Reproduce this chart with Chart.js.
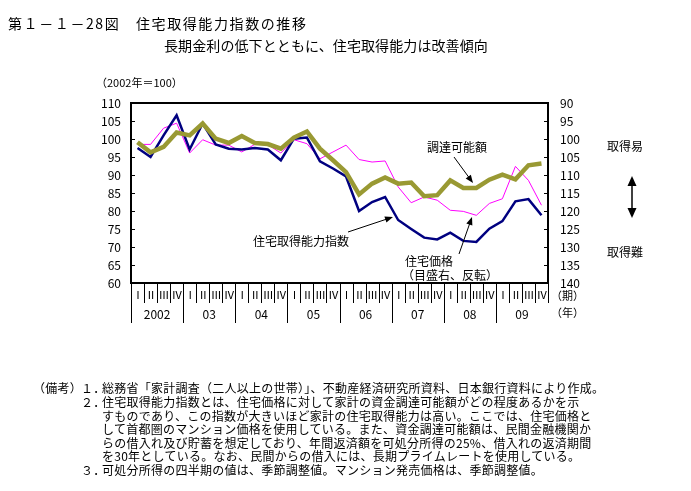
<!DOCTYPE html>
<html>
<head>
<meta charset="utf-8">
<script src="https://cdn.jsdelivr.net/npm/chart.js@4.4.1/dist/chart.umd.min.js"></script>
<style>
  body { margin: 0; background: #fff; font-family: "Noto Sans CJK JP", sans-serif; color: #000; }
  #wrap { position: relative; width: 691px; height: 491px; overflow: hidden; }
  #chart { position: absolute; left: 0; top: 0; }
  .t { position: absolute; white-space: nowrap; }
  .note { font-size: 12px; line-height: 13px; letter-spacing: 0.25px; }
</style>
</head>
<body>
<div id="wrap">
  <canvas id="chart" width="691" height="491"></canvas>
  <div class="t" style="left:8px;top:16px;font-size:14px;line-height:15px;letter-spacing:1.6px">第１－１－28図　住宅取得能力指数の推移</div>
  <div class="t" style="left:164px;top:38px;font-size:14px;line-height:15px;letter-spacing:0.1px">長期金利の低下とともに、住宅取得能力は改善傾向</div>

  <div class="t note" style="left:33px;top:381px">（備考）</div>
  <div class="t note" style="left:81px;top:381px">１．</div>
  <div class="t note" style="left:102px;top:381px">総務省「家計調査（二人以上の世帯）」、不動産経済研究所資料、日本銀行資料により作成。</div>
  <div class="t note" style="left:81px;top:395px">２．</div>
  <div class="t note" style="left:102px;top:395px">住宅取得能力指数とは、住宅価格に対して家計の資金調達可能額がどの程度あるかを示</div>
  <div class="t note" style="left:102px;top:409px">すものであり、この指数が大きいほど家計の住宅取得能力は高い。ここでは、住宅価格と</div>
  <div class="t note" style="left:102px;top:422px">して首都圏のマンション価格を使用している。また、資金調達可能額は、民間金融機関か</div>
  <div class="t note" style="left:102px;top:436px">らの借入れ及び貯蓄を想定しており、年間返済額を可処分所得の25%、借入れの返済期間</div>
  <div class="t note" style="left:102px;top:449px">を30年としている。なお、民間からの借入には、長期プライムレートを使用している。</div>
  <div class="t note" style="left:81px;top:463px">３．</div>
  <div class="t note" style="left:102px;top:463px">可処分所得の四半期の値は、季節調整値。マンション発売価格は、季節調整値。</div>
</div>
<script>
// quarters 2002 I - 2009 IV
var years = ['2002', '03', '04', '05', '06', '07', '08', '09'];
var quarters = ['Ⅰ', 'Ⅱ', 'Ⅲ', 'Ⅳ'];

// 住宅取得能力指数 (left axis, 2002=100)
var affordIndex = [97.5, 95.0, 101.0, 106.6, 97.1, 104.3, 98.5, 97.3,
                   97.1, 97.5, 97.1, 94.1, 100.1, 100.4, 93.8, 91.8,
                   89.6, 80.0, 82.5, 83.9, 77.5, 75.0, 72.6, 72.1,
                   74.0, 71.7, 71.4, 75.1, 77.2, 82.7, 83.3, 78.8];
// 調達可能額 (left axis)
var fundingAmount = [99.1, 96.3, 97.8, 101.8, 101.0, 104.3, 100.1, 98.9,
                     100.8, 98.9, 98.6, 97.3, 100.4, 102.1, 97.3, 94.1,
                     90.8, 84.6, 87.6, 89.3, 87.6, 87.9, 84.1, 84.4,
                     88.5, 86.4, 86.4, 88.7, 90.1, 88.8, 92.7, 93.2];
// 住宅価格 (right axis, reversed)
var housePrice = [101.5, 101.5, 97.0, 95.6, 103.9, 100.2, 101.7, 101.7,
                  103.6, 101.5, 101.6, 103.9, 100.2, 101.3, 105.5, 103.6,
                  101.7, 105.7, 106.4, 106.1, 113.3, 117.7, 116.1, 117.0,
                  119.8, 120.1, 121.2, 117.9, 116.6, 107.6, 111.5, 118.4];

var labels = [];
years.forEach(function(y) {
  quarters.forEach(function(q) { labels.push(y + q); });
});

var FONT = '"Noto Sans CJK JP", sans-serif';

function arrow(ctx, x1, y1, x2, y2) {
  var a = Math.atan2(y2 - y1, x2 - x1);
  var len = 8, w = 3.2;
  ctx.beginPath();
  ctx.moveTo(x1, y1);
  ctx.lineTo(x2 - Math.cos(a) * len * 0.8, y2 - Math.sin(a) * len * 0.8);
  ctx.stroke();
  ctx.beginPath();
  ctx.moveTo(x2, y2);
  ctx.lineTo(x2 - Math.cos(a) * len - Math.sin(a) * w, y2 - Math.sin(a) * len + Math.cos(a) * w);
  ctx.lineTo(x2 - Math.cos(a) * len + Math.sin(a) * w, y2 - Math.sin(a) * len - Math.cos(a) * w);
  ctx.closePath();
  ctx.fill();
}

var decor = {
  id: 'decor',
  afterDraw: function(chart) {
    var ctx = chart.ctx;
    var area = chart.chartArea;
    var xs = chart.scales.x, yl = chart.scales.y, yr = chart.scales.y2;
    ctx.save();
    ctx.strokeStyle = '#000';
    ctx.fillStyle = '#000';

    // frame
    ctx.lineWidth = 2;
    ctx.strokeRect(area.left, area.top, area.right - area.left, area.bottom - area.top);

    // inner tick marks
    ctx.lineWidth = 1;
    yl.ticks.forEach(function(t) {
      var py = Math.round(yl.getPixelForValue(t.value)) + 0.5;
      ctx.beginPath(); ctx.moveTo(area.left, py); ctx.lineTo(area.left + 4, py); ctx.stroke();
    });
    yr.ticks.forEach(function(t) {
      var py = Math.round(yr.getPixelForValue(t.value)) + 0.5;
      ctx.beginPath(); ctx.moveTo(area.right, py); ctx.lineTo(area.right - 4, py); ctx.stroke();
    });

    // two-row category axis
    var n = labels.length;
    var step = (area.right - area.left) / n;
    var row1 = area.bottom + 20, row2 = area.bottom + 40;
    ctx.lineWidth = 1;
    for (var i = 0; i <= n; i++) {
      var bx = Math.round(xs.getPixelForValue(Math.min(i, n - 1)) + (i === n ? step / 2 : -step / 2)) + 0.5;
      var bottom = (i % 4 === 0 && i < n) ? row2 : row1;
      ctx.beginPath(); ctx.moveTo(bx, area.bottom); ctx.lineTo(bx, bottom); ctx.stroke();
    }
    ctx.font = '11px ' + FONT;
    ctx.textAlign = 'center';
    ctx.textBaseline = 'middle';
    for (var j = 0; j < n; j++) {
      ctx.fillText(quarters[j % 4], xs.getPixelForValue(j) + 0.5, area.bottom + 12);
    }
    ctx.font = '12px ' + FONT;
    years.forEach(function(y, k) {
      var cx = (xs.getPixelForValue(k * 4) + xs.getPixelForValue(k * 4 + 3)) / 2;
      ctx.fillText(y, cx, area.bottom + 31);
    });
    ctx.textAlign = 'left';
    ctx.font = '11px ' + FONT;
    ctx.fillText('（期）', area.right + 3, area.bottom + 13);
    ctx.fillText('（年）', area.right + 3, area.bottom + 30);

    // unit
    ctx.font = '11px ' + FONT;
    ctx.fillText('（2002年＝100）', 96, 83);

    // annotations
    ctx.font = '12px ' + FONT;
    ctx.fillText('調達可能額', 427, 147);
    ctx.fillText('住宅取得能力指数', 253, 241);
    ctx.fillText('住宅価格', 405, 261);
    ctx.fillText('（目盛右、反転）', 402, 275);
    ctx.fillText('取得易', 607, 146);
    ctx.fillText('取得難', 607, 252);
    ctx.lineWidth = 1;
    arrow(ctx, 454, 157, 473, 183);
    arrow(ctx, 348, 232, 393, 217);
    arrow(ctx, 459, 254, 472, 217);
    // up/down arrow
    ctx.lineWidth = 1.5;
    ctx.beginPath(); ctx.moveTo(632, 182); ctx.lineTo(632, 212); ctx.stroke();
    ctx.beginPath(); ctx.moveTo(632, 176); ctx.lineTo(627.5, 186); ctx.lineTo(636.5, 186); ctx.closePath(); ctx.fill();
    ctx.beginPath(); ctx.moveTo(632, 218); ctx.lineTo(627.5, 208); ctx.lineTo(636.5, 208); ctx.closePath(); ctx.fill();
    ctx.restore();
  }
};

var ctx = document.getElementById('chart').getContext('2d');
new Chart(ctx, {
  type: 'line',
  data: {
    labels: labels,
    datasets: [{
      label: '調達可能額',
      data: fundingAmount,
      borderColor: '#999933',
      borderWidth: 4.5,
      yAxisID: 'y'
    }, {
      label: '住宅取得能力指数',
      data: affordIndex,
      borderColor: '#000080',
      borderWidth: 2.5,
      yAxisID: 'y'
    }, {
      label: '住宅価格（目盛右、反転）',
      data: housePrice,
      borderColor: '#ff00ff',
      borderWidth: 1,
      yAxisID: 'y2'
    }]
  },
  options: {
    responsive: false,
    animation: false,
    events: [],
    elements: {
      point: { radius: 0 },
      line: { tension: 0, borderJoinStyle: 'miter', fill: false }
    },
    layout: { padding: { left: 0, right: 83, top: 103, bottom: 208 } },
    scales: {
      x: {
        type: 'category',
        display: false,
        offset: true
      },
      y: {
        position: 'left',
        min: 60,
        max: 110,
        grid: { display: false, drawTicks: false },
        border: { display: false },
        ticks: { stepSize: 5, padding: 10, color: '#000', font: { family: FONT, size: 12 } },
        afterFit: function(scale) { scale.width = 131; }
      },
      y2: {
        position: 'right',
        min: 90,
        max: 140,
        reverse: true,
        grid: { display: false, drawTicks: false },
        border: { display: false },
        ticks: { stepSize: 5, padding: 12, color: '#000', font: { family: FONT, size: 12 } },
        afterFit: function(scale) { scale.width = 60; }
      }
    },
    plugins: {
      legend: { display: false },
      tooltip: { enabled: false },
      title: { display: false }
    }
  },
  plugins: [decor]
});
</script>
</body>
</html>
